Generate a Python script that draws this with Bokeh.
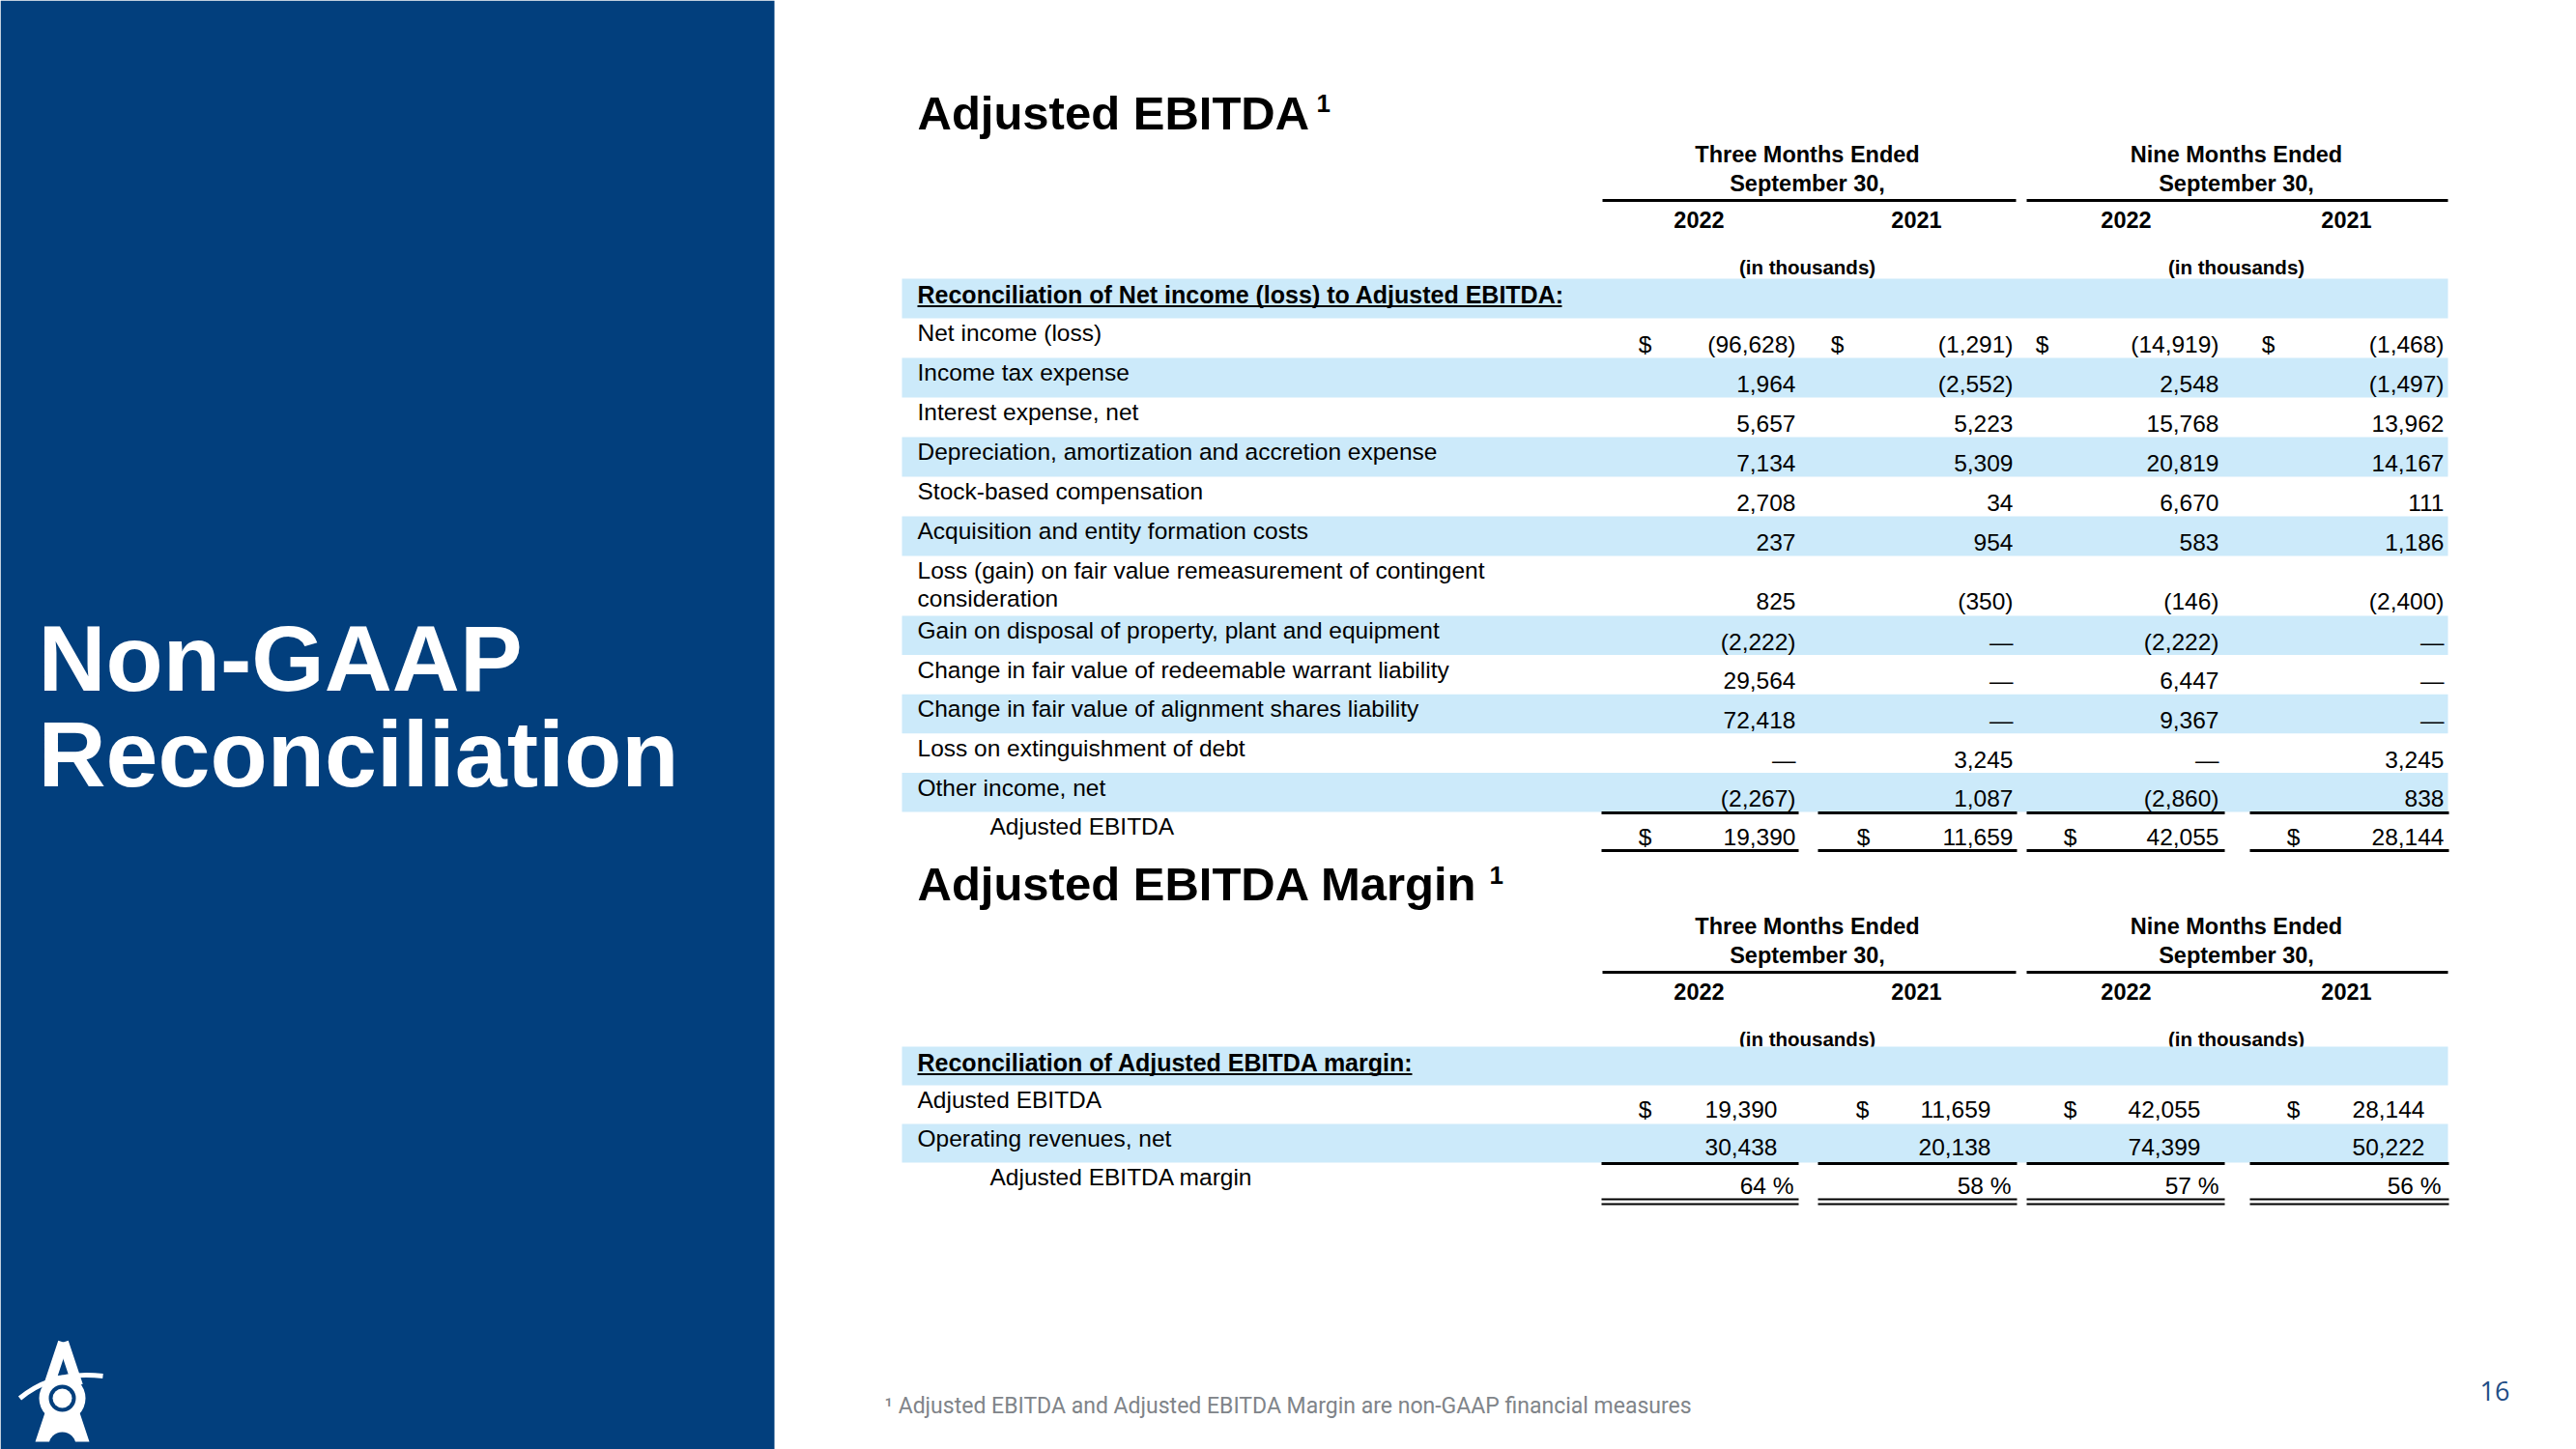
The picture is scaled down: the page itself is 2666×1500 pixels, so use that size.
from bokeh.plotting import figure
from bokeh.models import Range1d, ColumnDataSource
from bokeh.core.properties import value
from bokeh.embed import file_html
from bokeh.resources import INLINE

# ---------------- data ----------------
slide_title = ["Non-GAAP", "Reconciliation"]
table1_title = "Adjusted EBITDA"
table2_title = "Adjusted EBITDA Margin"
period_headers = [["Three Months Ended", "September 30,"], ["Nine Months Ended", "September 30,"]]
year_labels = ["2022", "2021", "2022", "2021"]
units_label = "(in thousands)"

recon_header = "Reconciliation of Net income (loss) to Adjusted EBITDA:"
row_labels = [
    "Net income (loss)",
    "Income tax expense",
    "Interest expense, net",
    "Depreciation, amortization and accretion expense",
    "Stock-based compensation",
    "Acquisition and entity formation costs",
    "Loss (gain) on fair value remeasurement of contingent\nconsideration",
    "Gain on disposal of property, plant and equipment",
    "Change in fair value of redeemable warrant liability",
    "Change in fair value of alignment shares liability",
    "Loss on extinguishment of debt",
    "Other income, net",
]
three_2022 = [-96628, 1964, 5657, 7134, 2708, 237, 825, -2222, 29564, 72418, None, -2267]
three_2021 = [-1291, -2552, 5223, 5309, 34, 954, -350, None, None, None, 3245, 1087]
nine_2022 = [-14919, 2548, 15768, 20819, 6670, 583, -146, -2222, 6447, 9367, None, -2860]
nine_2021 = [-1468, -1497, 13962, 14167, 111, 1186, -2400, None, None, None, 3245, 838]
total_label = "Adjusted EBITDA"
adj_ebitda = [19390, 11659, 42055, 28144]

margin_header = "Reconciliation of Adjusted EBITDA margin:"
margin_labels = ["Adjusted EBITDA", "Operating revenues, net", "Adjusted EBITDA margin"]
op_revenues = [30438, 20138, 74399, 50222]
margin_pct = [64, 58, 57, 56]

footnote = "\u00b9 Adjusted EBITDA and Adjusted EBITDA Margin are non-GAAP financial measures"
page_number = "16"

# ---------------- style / layout ----------------
FONT = "Liberation Sans"
NAVY = "#023F7D"
BAND = "#CCEAFA"
BASE_K = 0.36   # baseline correction (fraction of font size)

W, H = 2666, 1500
p = figure(width=W, height=H, x_range=Range1d(0, W), y_range=Range1d(H, 0),
           output_backend="svg", toolbar_location=None, min_border=0,
           x_axis_location=None, y_axis_location=None)
p.grid.visible = False
p.outline_line_color = None
p.background_fill_color = "white"
p.border_fill_color = "white"


def txt(xs, ys, texts, size, align="left", bold=False, color="black", font=FONT):
    ys = [y - BASE_K * size for y in ys]
    src = ColumnDataSource(dict(x=list(xs), y=list(ys), t=list(texts)))
    p.text(x="x", y="y", text="t", source=src, text_font=value(font),
           text_font_size=value(f"{size}px"), text_font_style="bold" if bold else "normal",
           text_align=align, text_baseline="alphabetic", text_color=color)


def fmt(v):
    if v is None:
        return "\u2014"
    if v < 0:
        return f"({abs(v):,})"
    return f"{v:,}"


# left navy panel
p.quad(left=[0], right=[801], top=[0], bottom=[1500], fill_color=NAVY, line_color=None)
txt([39, 39], [716, 815], slide_title, 97, bold=True, color="white")

# logo (approximation)
p.segment(x0=[65, 65], y0=[1389, 1389], x1=[50, 80], y1=[1434, 1434], line_width=11,
          line_color="white", line_cap="butt")
p.annulus(x=[64], y=[1447], inner_radius=14, outer_radius=24, fill_color="white", line_color=None)
p.quadratic(x0=[20], y0=[1447], x1=[106], y1=[1424], cx=[55], cy=[1418], line_width=5, line_color="white")
p.circle(x=[64], y=[1447], radius=10, fill_color="white", line_color=None)
p.patch(x=[46, 82, 92, 36], y=[1462, 1462, 1492, 1492], fill_color="white", line_color=None)
p.circle(x=[64], y=[1496], radius=14, fill_color=NAVY, line_color=None)

# common column geometry
LABEL_X = 949
INDENT_X = 1024
BAND_L, BAND_R = 933, 2533
group_centers = [1870, 2314]
group_spans = [(1658, 2086), (2097, 2533)]
year_centers = [1758, 1983, 2200, 2428]
col_spans = [(1657, 1861), (1881, 2087), (2097, 2302), (2328, 2534)]


def headers(title, title_base, sup_x, sup_base, y_l1):
    txt([LABEL_X], [title_base], [title], 49, bold=True)
    txt([sup_x], [sup_base], ["1"], 26, bold=True)
    for c, lines in zip(group_centers, period_headers):
        txt([c, c], [y_l1, y_l1 + 30], lines, 23.5, align="center", bold=True)
    p.segment(x0=[s[0] for s in group_spans], x1=[s[1] for s in group_spans],
              y0=[y_l1 + 39] * 2, y1=[y_l1 + 39] * 2, line_width=3, line_color="black")
    txt(year_centers, [y_l1 + 67] * 4, year_labels, 23.5, align="center", bold=True)
    txt(group_centers, [y_l1 + 115] * 2, [units_label] * 2, 20.5, align="center", bold=True)


# ---------------- table 1 ----------------
headers(table1_title, 134, 1362, 116, 168)

heights = [41] * 7 + [62] + [40.6] * 5 + [41]
tops = [288.0]
for h in heights[:-1]:
    tops.append(tops[-1] + h)
bottoms = [t + h for t, h in zip(tops, heights)]
blue = [i for i in range(13) if i % 2 == 0]
p.quad(left=BAND_L, right=BAND_R, top=[tops[i] for i in blue], bottom=[bottoms[i] for i in blue],
       fill_color=BAND, line_color=None)

txt([LABEL_X], [tops[0] + 25], [recon_header], 25, bold=True)
p.segment(x0=[LABEL_X], x1=[1616], y0=[tops[0] + 28.5], y1=[tops[0] + 28.5], line_width=2, line_color="black")

lx, ly, lt = [], [], []
for i, lab in enumerate(row_labels):
    parts = lab.split("\n")
    for k, part in enumerate(parts):
        lx.append(LABEL_X)
        ly.append(tops[i + 1] + 24 + 29 * k)
        lt.append(part)
txt(lx, ly, lt, 24.5)

num_right1 = [1858, 2083, 2296, 2529]
num_y = [bottoms[i + 1] - (6 if heights[i + 1] > 50 else 5) for i in range(12)]
for xr, col in zip(num_right1, [three_2022, three_2021, nine_2022, nine_2021]):
    txt([xr] * len(col), num_y, [fmt(v) for v in col], 24.5, align="right")

dollar1 = [1702, 1901, 2113, 2347]
txt(dollar1, [num_y[0]] * 4, ["$"] * 4, 24.5, align="center")

# total row
ttop = tops[13]
txt([INDENT_X], [ttop + 24], [total_label], 24.5)
txt(num_right1, [ttop + 35] * 4, [fmt(v) for v in adj_ebitda], 24.5, align="right")
txt([1702, 1928, 2142, 2373], [ttop + 35] * 4, ["$"] * 4, 24.5, align="center")
p.segment(x0=[s[0] for s in col_spans], x1=[s[1] for s in col_spans], y0=[ttop + 1] * 4, y1=[ttop + 1] * 4,
          line_width=3, line_color="black")
p.segment(x0=[s[0] for s in col_spans], x1=[s[1] for s in col_spans], y0=[ttop + 40] * 4, y1=[ttop + 40] * 4,
          line_width=3, line_color="black")

# ---------------- table 2 ----------------
headers(table2_title, 932, 1541, 915, 967)
m_tops = [1083, 1123, 1163, 1203]
p.quad(left=BAND_L, right=BAND_R, top=[m_tops[0], m_tops[2]], bottom=[m_tops[0] + 40, m_tops[2] + 40],
       fill_color=BAND, line_color=None)
txt([LABEL_X], [m_tops[0] + 25], [margin_header], 25, bold=True)
p.segment(x0=[LABEL_X], x1=[1461], y0=[m_tops[0] + 28.5], y1=[m_tops[0] + 28.5], line_width=2, line_color="black")
txt([LABEL_X, LABEL_X, INDENT_X], [m_tops[1] + 24, m_tops[2] + 24, m_tops[3] + 24], margin_labels, 24.5)

num_right2 = [1839, 2060, 2277, 2509]
txt(num_right2, [m_tops[1] + 34] * 4, [fmt(v) for v in adj_ebitda], 24.5, align="right")
txt([1702, 1927, 2142, 2373], [m_tops[1] + 34] * 4, ["$"] * 4, 24.5, align="center")
txt(num_right2, [m_tops[2] + 33] * 4, [fmt(v) for v in op_revenues], 24.5, align="right")
pct_right = [1856, 2081, 2296, 2526]
txt(pct_right, [m_tops[3] + 33] * 4, [f"{v} %" for v in margin_pct], 24.5, align="right")
xs0 = [s[0] for s in col_spans]
xs1 = [s[1] for s in col_spans]
p.segment(x0=xs0, x1=xs1, y0=[m_tops[3] + 1] * 4, y1=[m_tops[3] + 1] * 4, line_width=3, line_color="black")
p.segment(x0=xs0, x1=xs1, y0=[m_tops[3] + 38] * 4, y1=[m_tops[3] + 38] * 4, line_width=2, line_color="black")
p.segment(x0=xs0, x1=xs1, y0=[m_tops[3] + 43] * 4, y1=[m_tops[3] + 43] * 4, line_width=2, line_color="black")

# footnote & page number
txt([915], [1463], [footnote], 23, color="#808489", font="Roboto")
txt([2597], [1449], [page_number], 27, align="right", color="#1F4E87", font="Open Sans")

open("out.html", "w").write(file_html(p, INLINE))
